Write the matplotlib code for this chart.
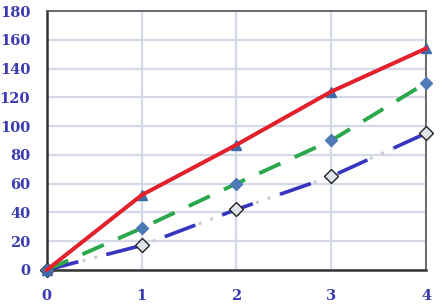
import matplotlib
matplotlib.use("Agg")
import matplotlib.pyplot as plt

# data
x_vals = [0, 1, 2, 3, 4]
red_tri = [0, 52, 87, 124, 154]
green_dia = [0, 29, 60, 90, 130]
blue_open = [0, 17, 42, 65, 95]

x_ticks = [0, 1, 2, 3, 4]
y_ticks = [0, 20, 40, 60, 80, 100, 120, 140, 160, 180]

label_color = "#3b3bb0"
grid_color = "#d3d9e6"

fig = plt.figure(figsize=(4.42, 3.06), dpi=100)
ax = fig.add_axes([0.106, 0.118, 0.858, 0.846])

# gridlines
ax.set_axisbelow(True)
ax.grid(True, color=grid_color, linewidth=1.6)

# blue-white series: gray dots under long blue dashes
ax.plot(x_vals, blue_open, color="#c8ccd4", linestyle=(0, (1, 3)),
        linewidth=2.2, zorder=2)
ax.plot(x_vals, blue_open, color="#3535c0", linestyle=(0, (9, 8)),
        linewidth=2.6, zorder=3)
ax.plot(x_vals, blue_open, linestyle="none", marker="D", markersize=7,
        markerfacecolor="#dfe4ec", markeredgecolor="#222222",
        markeredgewidth=1.0, zorder=4, clip_on=False)

# green dashed series with blue diamonds
ax.plot(x_vals, green_dia, color="#2aa84a", linestyle=(0, (6, 4)),
        linewidth=2.8, zorder=3)
ax.plot(x_vals, green_dia, linestyle="none", marker="D", markersize=6,
        markerfacecolor="#4d7ab5", markeredgecolor="#4d7ab5",
        zorder=4, clip_on=False)

# red solid series over blue triangles
ax.plot(x_vals, red_tri, color="#4d6fb0", linewidth=2.5, marker="^",
        markersize=7, markerfacecolor="#3d6aa8", markeredgecolor="#3d6aa8",
        zorder=4, clip_on=False)
ax.plot(x_vals, red_tri, color="#e8202a", linewidth=2.8, zorder=5,
        clip_on=False)

ax.set_xlim(0, 4)
ax.set_ylim(0, 180)
ax.set_xticks(x_ticks)
ax.set_yticks(y_ticks)

font = dict(family="DejaVu Serif", weight="bold", size=10.5,
            color=label_color)
ax.set_xticklabels([str(v) for v in x_ticks], **font)
ax.set_yticklabels([str(v) for v in y_ticks], **font)
ax.tick_params(axis="x", length=0, pad=14)
ax.tick_params(axis="y", length=0, pad=12)

for side in ("left", "bottom"):
    ax.spines[side].set_color("#333333")
    ax.spines[side].set_linewidth(1.8)
for side in ("top", "right"):
    ax.spines[side].set_color("#555555")
    ax.spines[side].set_linewidth(1.2)

fig.savefig("out.png", dpi=100)
